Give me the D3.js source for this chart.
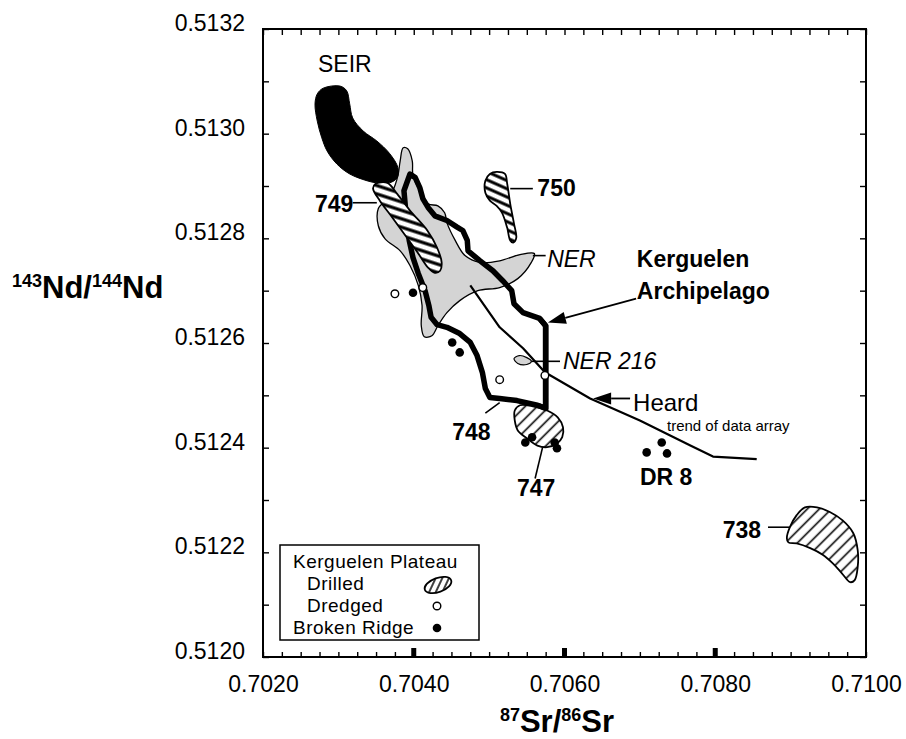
<!DOCTYPE html>
<html>
<head>
<meta charset="utf-8">
<script src="https://cdn.jsdelivr.net/npm/d3@7"></script>
<style>
  body { margin: 0; background: #fff; }
  svg { display: block; font-family: "Liberation Sans", Arial, Helvetica, sans-serif; }
</style>
</head>
<body>
<div id="plot"></div>
<script>
// tick labels
const srTicks = [0.7020, 0.7040, 0.7060, 0.7080, 0.7100];
const ndTicks = [0.5120, 0.5122, 0.5124, 0.5126, 0.5128, 0.5130, 0.5132];

// outlines as [87Sr/86Sr, 143Nd/144Nd]
const seir = [[0.70272,0.513076],[0.70280,0.513087],[0.70302,0.513091],[0.70311,0.513082],[0.70315,0.513057],[0.70319,0.513030],[0.70333,0.513005],[0.70351,0.512986],[0.70368,0.512962],[0.70379,0.512935],[0.70378,0.512916],[0.70368,0.512906],[0.70351,0.512906],[0.70338,0.512910],[0.70315,0.512923],[0.70298,0.512942],[0.70285,0.512967],[0.70278,0.512992],[0.70272,0.513024],[0.70269,0.513057]];

const ner = [[0.70386,0.512973],[0.70392,0.512971],[0.70398,0.512948],[0.70399,0.512920],[0.70408,0.512891],[0.70419,0.512866],[0.70432,0.512862],[0.70441,0.512849],[0.70444,0.512830],[0.70455,0.512796],[0.70468,0.512767],[0.70488,0.512754],[0.70514,0.512757],[0.70541,0.512769],[0.70560,0.512771],[0.70556,0.512754],[0.70538,0.512723],[0.70514,0.512706],[0.70485,0.512700],[0.70461,0.512681],[0.70444,0.512658],[0.70432,0.512633],[0.70424,0.512614],[0.70414,0.512612],[0.70410,0.512633],[0.70411,0.512672],[0.70406,0.512710],[0.70395,0.512748],[0.70382,0.512776],[0.70362,0.512799],[0.70353,0.512824],[0.70353,0.512857],[0.70362,0.512872],[0.70372,0.512891],[0.70379,0.512920],[0.70382,0.512948]];

const kerguelen = [[0.70395,0.512923],[0.70402,0.512916],[0.70408,0.512897],[0.70412,0.512876],[0.70419,0.512859],[0.70428,0.512843],[0.70444,0.512834],[0.70457,0.512822],[0.70465,0.512815],[0.70471,0.512796],[0.70472,0.512776],[0.70488,0.512757],[0.70505,0.512738],[0.70518,0.512719],[0.70530,0.512700],[0.70533,0.512675],[0.70545,0.512658],[0.70567,0.512647],[0.70575,0.512633],[0.70575,0.512586],[0.70575,0.512528],[0.70575,0.512475],[0.70564,0.512481],[0.70537,0.512490],[0.70514,0.512494],[0.70501,0.512496],[0.70495,0.512513],[0.70491,0.512544],[0.70484,0.512576],[0.70475,0.512601],[0.70461,0.512618],[0.70444,0.512630],[0.70431,0.512635],[0.70423,0.512649],[0.70420,0.512672],[0.70415,0.512700],[0.70406,0.512733],[0.70399,0.512763],[0.70394,0.512796],[0.70390,0.512843],[0.70387,0.512891]];

const site749 = [[0.70349,0.512904],[0.70365,0.512906],[0.70378,0.512885],[0.70395,0.512853],[0.70418,0.512815],[0.70431,0.512782],[0.70437,0.512754],[0.70435,0.512738],[0.70428,0.512734],[0.70419,0.512744],[0.70406,0.512771],[0.70391,0.512801],[0.70372,0.512839],[0.70355,0.512872],[0.70346,0.512895]];
const site750 = [[0.70495,0.512910],[0.70501,0.512923],[0.70510,0.512927],[0.70521,0.512923],[0.70524,0.512904],[0.70528,0.512866],[0.70533,0.512828],[0.70536,0.512801],[0.70532,0.512792],[0.70528,0.512796],[0.70524,0.512820],[0.70517,0.512849],[0.70510,0.512862],[0.70501,0.512872],[0.70495,0.512887]];
const site747 = [[0.70534,0.512471],[0.70541,0.512481],[0.70558,0.512479],[0.70577,0.512471],[0.70591,0.512458],[0.70598,0.512439],[0.70597,0.512420],[0.70590,0.512408],[0.70577,0.512401],[0.70564,0.512404],[0.70550,0.512418],[0.70538,0.512433],[0.70534,0.512452]];
const site738 = [[0.70895,0.512227],[0.70899,0.512248],[0.70908,0.512271],[0.70919,0.512286],[0.70935,0.512286],[0.70952,0.512277],[0.70969,0.512261],[0.70983,0.512237],[0.70989,0.512204],[0.70989,0.512172],[0.70985,0.512147],[0.70979,0.512143],[0.70968,0.512160],[0.70956,0.512179],[0.70943,0.512195],[0.70926,0.512208],[0.70908,0.512217],[0.70897,0.512219]];
const ner216 = [[0.70533,0.512570],[0.70540,0.512576],[0.70550,0.512572],[0.70556,0.512565],[0.70550,0.512559],[0.70538,0.512561]];

const heardTrend = [[0.70475,0.512710],[0.70514,0.512630],[0.70545,0.512590],[0.70574,0.512544],[0.70634,0.512494],[0.70700,0.512452],[0.70767,0.512404],[0.70797,0.512383],[0.70855,0.512378]];

// samples
const dredged = [[0.70375,0.512694],[0.70412,0.512706],[0.70514,0.512530],[0.70574,0.512538]];
const brokenRidge = [[0.70399,0.512696],[0.70451,0.512601],[0.70461,0.512582],[0.70548,0.512410],[0.70557,0.512420],[0.70587,0.512410],[0.70590,0.512399],[0.70709,0.512391],[0.70729,0.512410],[0.70736,0.512389]];

// annotations
const labels = [
  {text: "SEIR", sr: 0.70273, nd: 0.513133, kind: "plain"},
  {text: "749", sr: 0.70269, nd: 0.512866, kind: "bold"},
  {text: "750", sr: 0.70564, nd: 0.512897, kind: "bold"},
  {text: "NER", sr: 0.70577, nd: 0.512761, kind: "italic"},
  {text: "Kerguelen", sr: 0.70696, nd: 0.512761, kind: "bold"},
  {text: "Archipelago", sr: 0.70696, nd: 0.512700, kind: "bold"},
  {text: "NER 216", sr: 0.70598, nd: 0.512565, kind: "italic"},
  {text: "Heard", sr: 0.70691, nd: 0.512486, kind: "heard"},
  {text: "trend of data array", sr: 0.70736, nd: 0.512443, kind: "small"},
  {text: "748", sr: 0.70451, nd: 0.512429, kind: "bold"},
  {text: "747", sr: 0.70537, nd: 0.512322, kind: "bold"},
  {text: "DR 8", sr: 0.70700, nd: 0.512343, kind: "bold"},
  {text: "738", sr: 0.70810, nd: 0.512242, kind: "bold"}
];
const leaders = [
  [[0.70319,0.512868],[0.70351,0.512868]],
  [[0.70528,0.512895],[0.70558,0.512895]],
  [[0.70558,0.512767],[0.70575,0.512767]],
  [[0.70556,0.512565],[0.70594,0.512565]],
  [[0.70495,0.512466],[0.70514,0.512486]],
  [[0.70561,0.512341],[0.70571,0.512401]],
  [[0.70870,0.512248],[0.70899,0.512248]]
];
const arrows = [
  {from: [0.70695,0.512685], to: [0.70578,0.512639]},
  {from: [0.70687,0.512494], to: [0.70638,0.512494]}
];

const w = 906;
const h = 739;
const x = d3.scaleLinear().domain([0.7020, 0.7100]).range([263, 866]);
const y = d3.scaleLinear().domain([0.5120, 0.5132]).range([657, 29]);

const svg = d3.select("#plot").append("svg")
    .attr("width", w)
    .attr("height", h);

//-------------------patterns---------------------------
const defs = svg.append("defs");
function hatch(id, gap, width, angle) {
  const p = defs.append("pattern")
      .attr("id", id)
      .attr("patternUnits", "userSpaceOnUse")
      .attr("width", 20)
      .attr("height", gap)
      .attr("patternTransform", "rotate(" + angle + ")");
  p.append("rect").attr("width", 20).attr("height", gap).attr("fill", "#fff");
  p.append("line")
      .attr("x1", 0).attr("x2", 20)
      .attr("y1", gap / 2).attr("y2", gap / 2)
      .attr("stroke", "#000")
      .attr("stroke-width", width);
}
hatch("h749", 8, 3.2, 18);
hatch("h750", 7.5, 3, 24);
hatch("hdiag", 8.5, 1.6, -45);
hatch("hlegend", 6, 1.5, -45);

const path = d3.line().x(d => x(d[0])).y(d => y(d[1]));
const smooth = d3.line().x(d => x(d[0])).y(d => y(d[1])).curve(d3.curveCatmullRomClosed.alpha(0.5));
const closed = d3.line().x(d => x(d[0])).y(d => y(d[1])).curve(d3.curveLinearClosed);

//-------------------fields---------------------------
svg.append("path").attr("d", smooth(ner))
    .attr("fill", "#d4d4d4").attr("stroke", "#000").attr("stroke-width", 1.3);

svg.append("path").attr("d", smooth(seir))
    .attr("fill", "#000").attr("stroke", "#000").attr("stroke-width", 1);

svg.append("path").attr("d", path(heardTrend))
    .attr("fill", "none").attr("stroke", "#000").attr("stroke-width", 2.2)
    .attr("stroke-linejoin", "round");

svg.append("path").attr("d", closed(kerguelen))
    .attr("fill", "none").attr("stroke", "#000").attr("stroke-width", 5.5)
    .attr("stroke-linejoin", "round");

svg.append("path").attr("d", smooth(site749))
    .attr("fill", "url(#h749)").attr("stroke", "#000").attr("stroke-width", 1.8);
svg.append("path").attr("d", smooth(site750))
    .attr("fill", "url(#h750)").attr("stroke", "#000").attr("stroke-width", 1.8);
svg.append("path").attr("d", smooth(site747))
    .attr("fill", "url(#hdiag)").attr("stroke", "#000").attr("stroke-width", 1.8);
svg.append("path").attr("d", smooth(site738))
    .attr("fill", "url(#hdiag)").attr("stroke", "#000").attr("stroke-width", 1.8);
svg.append("path").attr("d", smooth(ner216))
    .attr("fill", "#d4d4d4").attr("stroke", "#000").attr("stroke-width", 1.2);

// re-draw the Kerguelen corner over site 747
svg.append("path").attr("d", path(kerguelen.slice(17, 23)))
    .attr("fill", "none").attr("stroke", "#000").attr("stroke-width", 5.5)
    .attr("stroke-linejoin", "round");

//-------------------samples---------------------------
svg.append("g").selectAll("circle")
    .data(brokenRidge).enter().append("circle")
    .attr("cx", d => x(d[0])).attr("cy", d => y(d[1]))
    .attr("r", 4.3).attr("fill", "#000");

svg.append("g").selectAll("circle")
    .data(dredged).enter().append("circle")
    .attr("cx", d => x(d[0])).attr("cy", d => y(d[1]))
    .attr("r", 3.8).attr("fill", "#fff").attr("stroke", "#000").attr("stroke-width", 1.4);

//-------------------annotations---------------------------
svg.append("g").selectAll("path")
    .data(leaders).enter().append("path")
    .attr("d", d => path(d))
    .attr("stroke", "#000").attr("stroke-width", 1.6);

arrows.forEach(a => {
  const x0 = x(a.from[0]), y0 = y(a.from[1]);
  const x1 = x(a.to[0]), y1 = y(a.to[1]);
  const len = Math.hypot(x1 - x0, y1 - y0);
  const ux = (x1 - x0) / len, uy = (y1 - y0) / len;
  const hl = 18, hw = 6;
  const bx = x1 - ux * hl, by = y1 - uy * hl;
  svg.append("line")
      .attr("x1", x0).attr("y1", y0).attr("x2", bx).attr("y2", by)
      .attr("stroke", "#000").attr("stroke-width", 1.8);
  svg.append("path")
      .attr("d", "M" + x1 + "," + y1 +
                 "L" + (bx - uy * hw) + "," + (by + ux * hw) +
                 "L" + (bx + uy * hw) + "," + (by - ux * hw) + "Z")
      .attr("fill", "#000");
});

const fonts = {
  plain: {size: 23, weight: "normal", style: "normal"},
  bold: {size: 23, weight: "bold", style: "normal"},
  italic: {size: 23, weight: "normal", style: "italic"},
  heard: {size: 24, weight: "normal", style: "normal"},
  small: {size: 15, weight: "normal", style: "normal"}
};
svg.append("g").selectAll("text")
    .data(labels).enter().append("text")
    .attr("x", d => x(d.sr))
    .attr("y", d => y(d.nd))
    .attr("dominant-baseline", "central")
    .attr("font-size", d => fonts[d.kind].size)
    .attr("font-weight", d => fonts[d.kind].weight)
    .attr("font-style", d => fonts[d.kind].style)
    .text(d => d.text);

//-------------------axes---------------------------
const srMinor = d3.range(0, 33).map(i => 0.7020 + i * 0.00025);
const ndMinor = d3.range(0, 13).map(i => 0.5120 + i * 0.0001);

svg.append("g").attr("transform", "translate(0,29)")
    .call(d3.axisTop(x).tickValues(srMinor).tickSize(-6).tickSizeOuter(0).tickFormat(""))
    .call(g => g.select(".domain").remove())
    .call(g => g.selectAll("line").attr("stroke-width", 1.4));
svg.append("g").attr("transform", "translate(0,657)")
    .call(d3.axisBottom(x).tickValues(srMinor).tickSize(-5).tickSizeOuter(0).tickFormat(""))
    .call(g => g.select(".domain").remove())
    .call(g => g.selectAll("line").attr("stroke-width", 1.4));
svg.append("g").attr("transform", "translate(263,0)")
    .call(d3.axisLeft(y).tickValues(ndMinor).tickSize(-6).tickSizeOuter(0).tickFormat(""))
    .call(g => g.select(".domain").remove())
    .call(g => g.selectAll("line").attr("stroke-width", 1.4));
svg.append("g").attr("transform", "translate(866,0)")
    .call(d3.axisRight(y).tickValues(ndMinor).tickSize(-6).tickSizeOuter(0).tickFormat(""))
    .call(g => g.select(".domain").remove())
    .call(g => g.selectAll("line").attr("stroke-width", 1.4));

// bold marks on the bottom axis
svg.append("g").selectAll("rect")
    .data(srTicks.slice(1, -1)).enter().append("rect")
    .attr("x", d => x(d) - 2.5).attr("y", 648)
    .attr("width", 5).attr("height", 9).attr("fill", "#000");

svg.append("rect")
    .attr("x", 263).attr("y", 29).attr("width", 603).attr("height", 628)
    .attr("fill", "none").attr("stroke", "#000").attr("stroke-width", 2);

svg.append("g").attr("transform", "translate(0,657)")
    .call(d3.axisBottom(x).tickValues(srTicks).tickSize(0).tickPadding(19).tickFormat(d3.format(".4f")))
    .call(g => g.select(".domain").remove())
    .call(g => g.selectAll("text").attr("font-size", 23).attr("font-family", null).attr("fill", "#000"));
svg.append("g").attr("transform", "translate(263,-6)")
    .call(d3.axisLeft(y).tickValues(ndTicks).tickSize(0).tickPadding(18).tickFormat(d3.format(".4f")))
    .call(g => g.select(".domain").remove())
    .call(g => g.selectAll("text").attr("font-size", 23).attr("font-family", null).attr("fill", "#000"));

// axis titles
const xt = svg.append("text").attr("x", 557).attr("y", 732)
    .attr("text-anchor", "middle").attr("font-weight", "bold").attr("font-size", 31);
xt.append("tspan").attr("font-size", 18).attr("dy", -11).text("87");
xt.append("tspan").attr("dy", 11).text("Sr/");
xt.append("tspan").attr("font-size", 18).attr("dy", -11).text("86");
xt.append("tspan").attr("dy", 11).text("Sr");

const yt = svg.append("text").attr("x", 12).attr("y", 298)
    .attr("font-weight", "bold").attr("font-size", 31);
yt.append("tspan").attr("font-size", 18).attr("dy", -11).text("143");
yt.append("tspan").attr("dy", 11).text("Nd/");
yt.append("tspan").attr("font-size", 18).attr("dy", -11).text("144");
yt.append("tspan").attr("dy", 11).text("Nd");

//-------------------legend---------------------------
const legend = svg.append("g").attr("id", "legend").attr("transform", "translate(280,545)");
legend.append("rect").attr("width", 199).attr("height", 95)
    .attr("fill", "#fff").attr("stroke", "#000").attr("stroke-width", 1.5);
const legendRows = [
  {text: "Kerguelen Plateau", dx: 13, base: 23},
  {text: "Drilled", dx: 27, base: 45},
  {text: "Dredged", dx: 27, base: 67},
  {text: "Broken Ridge", dx: 13, base: 89}
];
legend.selectAll("text").data(legendRows).enter().append("text")
    .attr("x", d => d.dx).attr("y", d => d.base)
    .attr("font-size", 19).attr("letter-spacing", 0.5).text(d => d.text);
legend.append("ellipse").attr("cx", 158).attr("cy", 40).attr("rx", 14).attr("ry", 7)
    .attr("transform", "rotate(-20,158,40)")
    .attr("fill", "url(#hlegend)").attr("stroke", "#000").attr("stroke-width", 1.8);
legend.append("circle").attr("cx", 157).attr("cy", 61).attr("r", 3.8)
    .attr("fill", "#fff").attr("stroke", "#000").attr("stroke-width", 1.4);
legend.append("circle").attr("cx", 157).attr("cy", 83).attr("r", 4.3).attr("fill", "#000");
</script>
</body>
</html>
